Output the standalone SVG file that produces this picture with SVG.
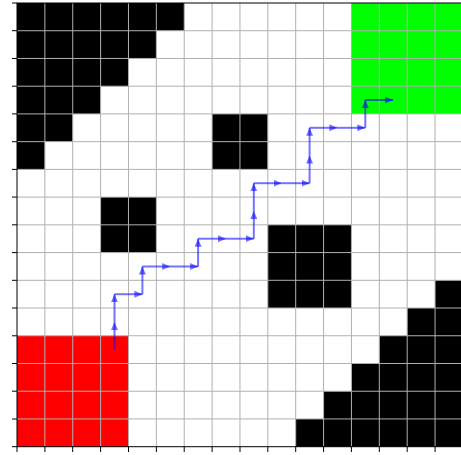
<svg xmlns="http://www.w3.org/2000/svg" width="461" height="455" viewBox="0 0 461 455">
<style>
.obs{fill:#000000}
.grid line{stroke:#b0b0b0;stroke-width:1;vector-effect:non-scaling-stroke}
.seg{stroke:#0000ff;stroke-opacity:0.55;stroke-width:2;fill:none;marker-end:url(#ah)}
.tick{stroke:#000000;stroke-width:1}
</style>
<defs>
<marker id="ah" markerUnits="userSpaceOnUse" markerWidth="9" markerHeight="8" refX="8" refY="3.5" orient="auto">
<path d="M0,0 L8,3.5 L0,7 z" fill="#0000ff" fill-opacity="0.55"/>
</marker>
</defs>
<rect x="0" y="0" width="461" height="455" fill="#ffffff"/>
<g transform="translate(17,3) scale(27.87,27.73)">
<g id="obstacles">
<polygon class="obs" points="0,0 6,0 6,1 5,1 5,2 4,2 4,3 3,3 3,4 2,4 2,5 1,5 1,6 0,6"/>
<rect class="obs" x="7" y="4" width="2" height="2"/>
<rect class="obs" x="3" y="7" width="2" height="2"/>
<rect class="obs" x="9" y="8" width="3" height="3"/>
<polygon class="obs" points="15,10 16,10 16,16 10,16 10,15 11,15 11,14 12,14 12,13 13,13 13,12 14,12 14,11 15,11"/>
</g>
<g id="start"><rect x="0" y="12" width="4" height="4" fill="#ff0000"/></g>
<g id="goal"><rect x="12" y="0" width="4" height="4" fill="#00ff00"/></g>
<g class="grid">
<line x1="1" y1="0" x2="1" y2="16"/><line x1="2" y1="0" x2="2" y2="16"/><line x1="3" y1="0" x2="3" y2="16"/><line x1="4" y1="0" x2="4" y2="16"/>
<line x1="5" y1="0" x2="5" y2="16"/><line x1="6" y1="0" x2="6" y2="16"/><line x1="7" y1="0" x2="7" y2="16"/><line x1="8" y1="0" x2="8" y2="16"/>
<line x1="9" y1="0" x2="9" y2="16"/><line x1="10" y1="0" x2="10" y2="16"/><line x1="11" y1="0" x2="11" y2="16"/><line x1="12" y1="0" x2="12" y2="16"/>
<line x1="13" y1="0" x2="13" y2="16"/><line x1="14" y1="0" x2="14" y2="16"/><line x1="15" y1="0" x2="15" y2="16"/>
<line x1="0" y1="1" x2="16" y2="1"/><line x1="0" y1="2" x2="16" y2="2"/><line x1="0" y1="3" x2="16" y2="3"/><line x1="0" y1="4" x2="16" y2="4"/>
<line x1="0" y1="5" x2="16" y2="5"/><line x1="0" y1="6" x2="16" y2="6"/><line x1="0" y1="7" x2="16" y2="7"/><line x1="0" y1="8" x2="16" y2="8"/>
<line x1="0" y1="9" x2="16" y2="9"/><line x1="0" y1="10" x2="16" y2="10"/><line x1="0" y1="11" x2="16" y2="11"/><line x1="0" y1="12" x2="16" y2="12"/>
<line x1="0" y1="13" x2="16" y2="13"/><line x1="0" y1="14" x2="16" y2="14"/><line x1="0" y1="15" x2="16" y2="15"/>
</g>
</g>
<g id="axes">
<rect x="17" y="3" width="445.9" height="443.7" fill="none" stroke="#000000" stroke-width="1"/>
<line class="tick" x1="12" y1="3" x2="17" y2="3"/><line class="tick" x1="12" y1="30.7" x2="17" y2="30.7"/><line class="tick" x1="12" y1="58.5" x2="17" y2="58.5"/><line class="tick" x1="12" y1="86.2" x2="17" y2="86.2"/>
<line class="tick" x1="12" y1="113.9" x2="17" y2="113.9"/><line class="tick" x1="12" y1="141.7" x2="17" y2="141.7"/><line class="tick" x1="12" y1="169.4" x2="17" y2="169.4"/><line class="tick" x1="12" y1="197.1" x2="17" y2="197.1"/>
<line class="tick" x1="12" y1="224.8" x2="17" y2="224.8"/><line class="tick" x1="12" y1="252.6" x2="17" y2="252.6"/><line class="tick" x1="12" y1="280.3" x2="17" y2="280.3"/><line class="tick" x1="12" y1="308" x2="17" y2="308"/>
<line class="tick" x1="12" y1="335.8" x2="17" y2="335.8"/><line class="tick" x1="12" y1="363.5" x2="17" y2="363.5"/><line class="tick" x1="12" y1="391.2" x2="17" y2="391.2"/><line class="tick" x1="12" y1="419" x2="17" y2="419"/><line class="tick" x1="12" y1="446.7" x2="17" y2="446.7"/>
<line class="tick" x1="17" y1="446.7" x2="17" y2="452"/><line class="tick" x1="44.9" y1="446.7" x2="44.9" y2="452"/><line class="tick" x1="72.7" y1="446.7" x2="72.7" y2="452"/><line class="tick" x1="100.6" y1="446.7" x2="100.6" y2="452"/>
<line class="tick" x1="128.5" y1="446.7" x2="128.5" y2="452"/><line class="tick" x1="156.4" y1="446.7" x2="156.4" y2="452"/><line class="tick" x1="184.2" y1="446.7" x2="184.2" y2="452"/><line class="tick" x1="212.1" y1="446.7" x2="212.1" y2="452"/>
<line class="tick" x1="240" y1="446.7" x2="240" y2="452"/><line class="tick" x1="267.8" y1="446.7" x2="267.8" y2="452"/><line class="tick" x1="295.7" y1="446.7" x2="295.7" y2="452"/><line class="tick" x1="323.6" y1="446.7" x2="323.6" y2="452"/>
<line class="tick" x1="351.4" y1="446.7" x2="351.4" y2="452"/><line class="tick" x1="379.3" y1="446.7" x2="379.3" y2="452"/><line class="tick" x1="407.2" y1="446.7" x2="407.2" y2="452"/><line class="tick" x1="435.1" y1="446.7" x2="435.1" y2="452"/>
</g>
<g id="connectors">
<line class="seg" x1="114.5" y1="349.6" x2="114.5" y2="321.9"/>
<line class="seg" x1="114.5" y1="321.9" x2="114.5" y2="294.2"/>
<line class="seg" x1="114.5" y1="294.2" x2="142.4" y2="294.2"/>
<line class="seg" x1="142.4" y1="294.2" x2="142.4" y2="266.5"/>
<line class="seg" x1="142.4" y1="266.5" x2="170.2" y2="266.5"/>
<line class="seg" x1="170.2" y1="266.5" x2="198.1" y2="266.5"/>
<line class="seg" x1="198.1" y1="266.5" x2="198.1" y2="238.7"/>
<line class="seg" x1="198.1" y1="238.7" x2="226" y2="238.7"/>
<line class="seg" x1="226" y1="238.7" x2="253.8" y2="238.7"/>
<line class="seg" x1="253.8" y1="238.7" x2="253.8" y2="211"/>
<line class="seg" x1="253.8" y1="211" x2="253.8" y2="183.2"/>
<line class="seg" x1="253.8" y1="183.2" x2="281.7" y2="183.2"/>
<line class="seg" x1="281.7" y1="183.2" x2="309.6" y2="183.2"/>
<line class="seg" x1="309.6" y1="183.2" x2="309.6" y2="155.5"/>
<line class="seg" x1="309.6" y1="155.5" x2="309.6" y2="127.8"/>
<line class="seg" x1="309.6" y1="127.8" x2="337.4" y2="127.8"/>
<line class="seg" x1="337.4" y1="127.8" x2="365.3" y2="127.8"/>
<line class="seg" x1="365.3" y1="127.8" x2="365.3" y2="100"/>
<line class="seg" x1="365.3" y1="100" x2="393.2" y2="100"/>
</g>
</svg>
